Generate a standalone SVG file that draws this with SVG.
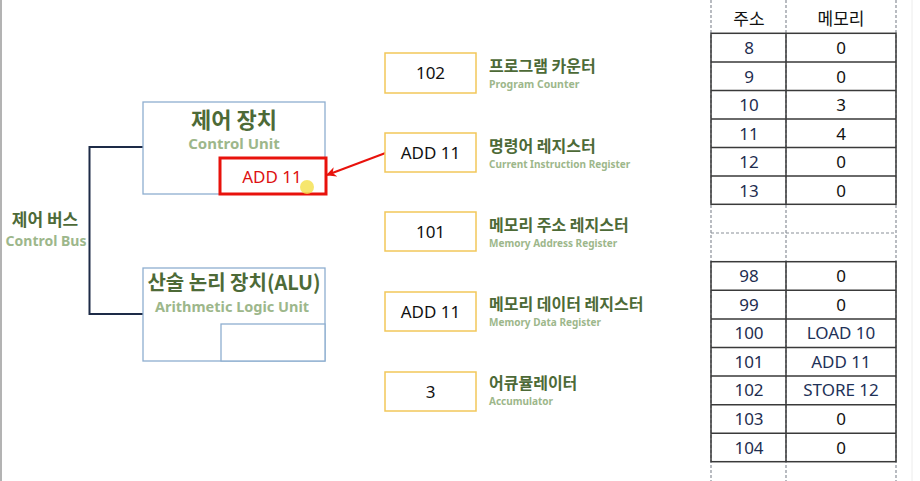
<svg xmlns="http://www.w3.org/2000/svg" width="920" height="481" viewBox="0 0 920 481">
<defs>
<style>
.ko{font-family:"Noto Sans CJK KR","Noto Sans",sans-serif;}
.title{font-family:"Noto Sans CJK KR","Noto Sans",sans-serif;font-weight:700;fill:#4d6a37;}
.sub{font-family:"Noto Sans","Noto Sans CJK KR",sans-serif;font-weight:700;fill:#9db78b;}
.unit{fill:#fff;stroke:#8eaed0;stroke-width:1.3;}
.reg{fill:#fff;stroke:#f2c75a;stroke-width:1.5;}
.val{font-family:"Noto Sans","Noto Sans CJK KR",sans-serif;font-size:17px;fill:#111;text-anchor:middle;}
.bus{fill:none;stroke:#1d2b47;stroke-width:2;}
.cell{font-family:"Noto Sans","Noto Sans CJK KR",sans-serif;font-size:17px;text-anchor:middle;}
.addr{fill:#1e2d4f;}
.mem{fill:#111;}
.navy{fill:#1e3158;}
.dash{stroke:#8a8f98;stroke-width:1.2;stroke-dasharray:3 2;fill:none;}
.grid{stroke:#3a3a3a;stroke-width:1.5;fill:none;}
</style>
<marker id="arr" markerWidth="10" markerHeight="10" refX="9" refY="5" orient="auto" markerUnits="userSpaceOnUse">
<path d="M0,0 L10,5 L0,10 L3,5 Z" fill="#e8120c"/>
</marker>
</defs>
<rect x="0" y="0" width="920" height="481" fill="#fff"/>
<line x1="1" y1="0" x2="1" y2="481" stroke="#9a9a9a" stroke-width="1.5"/>
<line x1="912" y1="0" x2="912" y2="481" stroke="#ececec" stroke-width="1"/>

<g id="connectors">
<path class="bus" d="M143,147 H89.5 V314 H143"/>
<line x1="385.5" y1="153" x2="327" y2="175" stroke="#e8120c" stroke-width="2" marker-end="url(#arr)"/>
</g>

<g id="control-bus">
<text class="title" x="45" y="226" font-size="17" text-anchor="middle">제어 버스</text>
<text class="sub" x="46" y="246" font-size="14" text-anchor="middle">Control Bus</text>
</g>

<g id="control-unit">
<rect class="unit" x="143" y="102" width="182" height="92"/>
<text class="title" x="234" y="128" font-size="22" text-anchor="middle">제어 장치</text>
<text class="sub" x="234" y="149" font-size="15" text-anchor="middle">Control Unit</text>
</g>

<g id="cu-register">
<rect x="220" y="158" width="106" height="36" fill="#fff" stroke="#e8120c" stroke-width="3"/>
<text x="272" y="183" font-family="Noto Sans, sans-serif" font-size="17" fill="#d11" text-anchor="middle">ADD 11</text>
<circle cx="307" cy="187" r="7" fill="#f4e04a" opacity="0.8"/>
</g>

<g id="alu">
<rect class="unit" x="143" y="268" width="182" height="93"/>
<rect class="unit" x="221" y="324" width="104" height="37"/>
<text class="title" x="234" y="290" font-size="20" text-anchor="middle">산술 논리 장치(ALU)</text>
<text class="sub" x="232" y="312" font-size="14.5" text-anchor="middle">Arithmetic Logic Unit</text>
</g>

<g id="pc">
<rect class="reg" x="385" y="53" width="91" height="40"/>
<text class="val" x="430.5" y="79">102</text>
<text class="title" x="489" y="72" font-size="16">프로그램 카운터</text>
<text class="sub" x="489" y="88" font-size="10.5">Program Counter</text>
</g>

<g id="ir">
<rect class="reg" x="385" y="133" width="91" height="39"/>
<text class="val" x="430.5" y="158.5">ADD 11</text>
<text class="title" x="489" y="152" font-size="16">명령어 레지스터</text>
<text class="sub" x="489" y="167.5" font-size="10">Current Instruction Register</text>
</g>

<g id="mar">
<rect class="reg" x="385" y="212" width="91" height="39"/>
<text class="val" x="430.5" y="238">101</text>
<text class="title" x="489" y="231" font-size="16">메모리 주소 레지스터</text>
<text class="sub" x="489" y="246.5" font-size="10">Memory Address Register</text>
</g>

<g id="mdr">
<rect class="reg" x="385" y="292" width="91" height="39"/>
<text class="val" x="430.5" y="317.5">ADD 11</text>
<text class="title" x="489" y="310" font-size="16">메모리 데이터 레지스터</text>
<text class="sub" x="489" y="326" font-size="10">Memory Data Register</text>
</g>

<g id="acc">
<rect class="reg" x="385" y="372" width="91" height="39"/>
<text class="val" x="430.5" y="397.5">3</text>
<text class="title" x="489" y="389" font-size="16">어큐뮬레이터</text>
<text class="sub" x="489" y="404.5" font-size="10">Accumulator</text>
</g>

<g id="memory-table">
<line class="dash" x1="711" y1="0" x2="711" y2="481"/>
<line class="dash" x1="786" y1="0" x2="786" y2="481"/>
<line class="dash" x1="896" y1="0" x2="896" y2="481"/>
<line class="dash" x1="711" y1="233" x2="896" y2="233"/>
<text class="cell mem ko" x="749" y="25" font-size="16">주소</text>
<text class="cell mem ko" x="841" y="25" font-size="16">메모리</text>
<rect class="grid" x="711" y="33.3" width="185" height="171"/>
<line class="grid" x1="786" y1="33.3" x2="786" y2="204.3"/>
<path class="grid" d="M711,62 H896 M711,90.5 H896 M711,119 H896 M711,147.5 H896 M711,176 H896"/>
<g>
<text class="cell addr" x="749" y="54">8</text><text class="cell mem" x="841" y="54">0</text>
<text class="cell addr" x="749" y="82.5">9</text><text class="cell mem" x="841" y="82.5">0</text>
<text class="cell addr" x="749" y="111">10</text><text class="cell mem" x="841" y="111">3</text>
<text class="cell addr" x="749" y="139.5">11</text><text class="cell mem" x="841" y="139.5">4</text>
<text class="cell addr" x="749" y="168">12</text><text class="cell mem" x="841" y="168">0</text>
<text class="cell addr" x="749" y="196.5">13</text><text class="cell mem" x="841" y="196.5">0</text>
</g>
<rect class="grid" x="711" y="261.7" width="185" height="200"/>
<line class="grid" x1="786" y1="261.7" x2="786" y2="461.7"/>
<path class="grid" d="M711,290.3 H896 M711,318.9 H896 M711,347.5 H896 M711,376.1 H896 M711,404.7 H896 M711,433.3 H896"/>
<g>
<text class="cell addr" x="749" y="282">98</text><text class="cell mem" x="841" y="282">0</text>
<text class="cell addr" x="749" y="310.5">99</text><text class="cell mem" x="841" y="310.5">0</text>
<text class="cell addr" x="749" y="339">100</text><text class="cell navy" x="841" y="339">LOAD 10</text>
<text class="cell addr" x="749" y="367.5">101</text><text class="cell navy" x="841" y="367.5">ADD 11</text>
<text class="cell addr" x="749" y="396">102</text><text class="cell navy" x="841" y="396">STORE 12</text>
<text class="cell addr" x="749" y="425">103</text><text class="cell mem" x="841" y="425">0</text>
<text class="cell addr" x="749" y="453.5">104</text><text class="cell mem" x="841" y="453.5">0</text>
</g>
</g>
</svg>
